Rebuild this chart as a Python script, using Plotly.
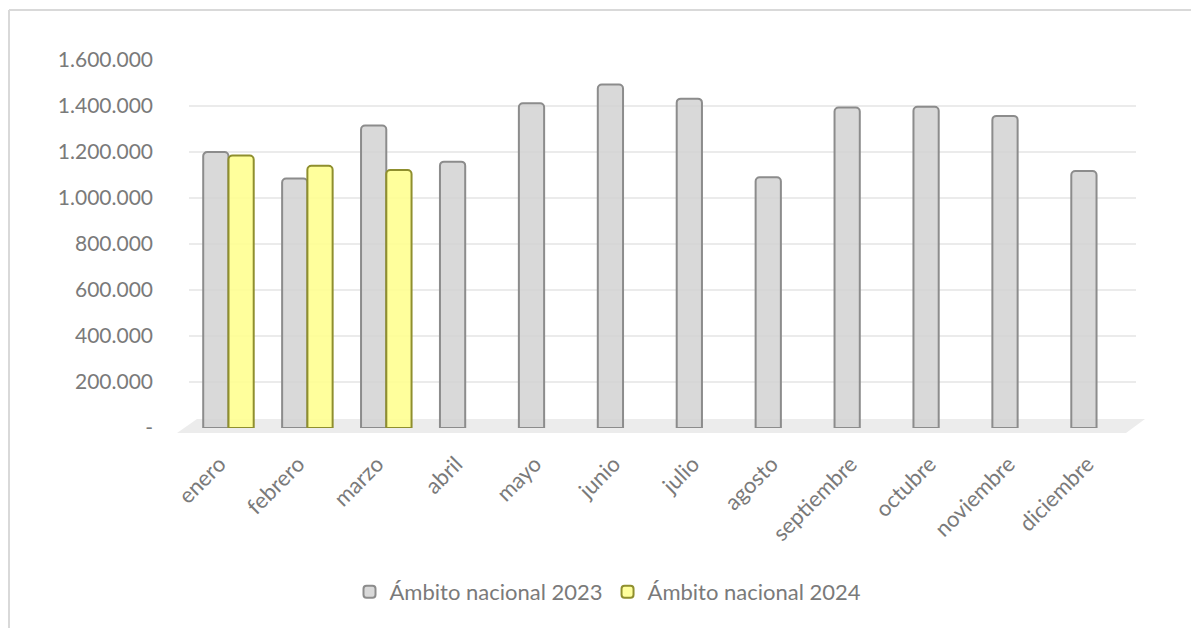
import plotly.graph_objects as go

months = ["enero", "febrero", "marzo", "abril", "mayo", "junio", "julio",
          "agosto", "septiembre", "octubre", "noviembre", "diciembre"]
serie_2023 = [1200000, 1085000, 1315000, 1158000, 1412000, 1493000, 1432000,
              1090000, 1393000, 1397000, 1357000, 1117000]
serie_2024 = [1185000, 1140000, 1122000, None, None, None, None,
              None, None, None, None, None]
name_2023 = "Ámbito nacional 2023"
name_2024 = "Ámbito nacional 2024"
tick_vals = [0, 200000, 400000, 600000, 800000, 1000000, 1200000, 1400000, 1600000]
tick_text = ["-", "200.000", "400.000", "600.000", "800.000", "1.000.000",
             "1.200.000", "1.400.000", "1.600.000"]

OFF = 8  # page body margin
W, H = 1199, 628
# plot area in window pixels: x 189..1136, y 60..428
L = 189 - OFF
R = W - (1136 - OFF)
T = 60 - OFF
B = H - (428 - OFF)
pw, ph = W - L - R, H - T - B

def px(x):
    return (x - OFF - L) / pw

def py(y):
    return (H - B - (y - OFF)) / ph

txt = "#7a7a7a"
font = "Lato"

fig = go.Figure()
fig.add_trace(go.Bar(
    x=months, y=serie_2023, name=name_2023,
    marker=dict(color="rgba(210,210,210,0.85)", line=dict(color="#8c8c8c", width=2),
                cornerradius=4),
))
fig.add_trace(go.Bar(
    x=months, y=serie_2024, name=name_2024,
    marker=dict(color="rgba(255,255,145,0.9)", line=dict(color="#8f8f2e", width=2),
                cornerradius=4),
))

shapes = [
    dict(type="path", xref="paper", yref="paper",
         path=f"M {px(177)} {py(433)} L {px(197)} {py(419)} L {px(1145)} {py(419)} L {px(1126)} {py(433)} Z",
         fillcolor="#ececec", line=dict(width=0), layer="below"),
    dict(type="line", xref="paper", yref="paper", x0=px(9), x1=px(9), y0=py(660), y1=py(10),
         line=dict(color="#d9d9d9", width=2)),
    dict(type="line", xref="paper", yref="paper", x0=px(9), x1=px(1230), y0=py(10), y1=py(10),
         line=dict(color="#d9d9d9", width=2)),
]

fig.update_layout(
    width=W, height=H,
    margin=dict(l=L, r=R, t=T, b=B, autoexpand=False),
    paper_bgcolor="white", plot_bgcolor="white",
    barmode="group", bargap=0.36, bargroupgap=0.0,
    font=dict(family=font, color=txt),
    shapes=shapes,
    legend=dict(orientation="h", x=px(608), xanchor="center", y=py(592), yanchor="middle",
                font=dict(size=22, color=txt, family=font), itemwidth=30,
                traceorder="normal"),
    xaxis=dict(tickangle=-45, tickfont=dict(size=22, color=txt, family=font),
               showgrid=False, showline=False, ticks="", ticklabelstandoff=18,
               ticklabelshift=-9),
    yaxis=dict(range=[0, 1600000], tickvals=tick_vals, ticktext=tick_text,
               tickfont=dict(size=21, color=txt, family=font),
               showgrid=True, gridcolor="#ebebeb", gridwidth=2,
               zeroline=False, showline=False, ticks="", ticklabelstandoff=35),
)

fig.write_html("out.html")
